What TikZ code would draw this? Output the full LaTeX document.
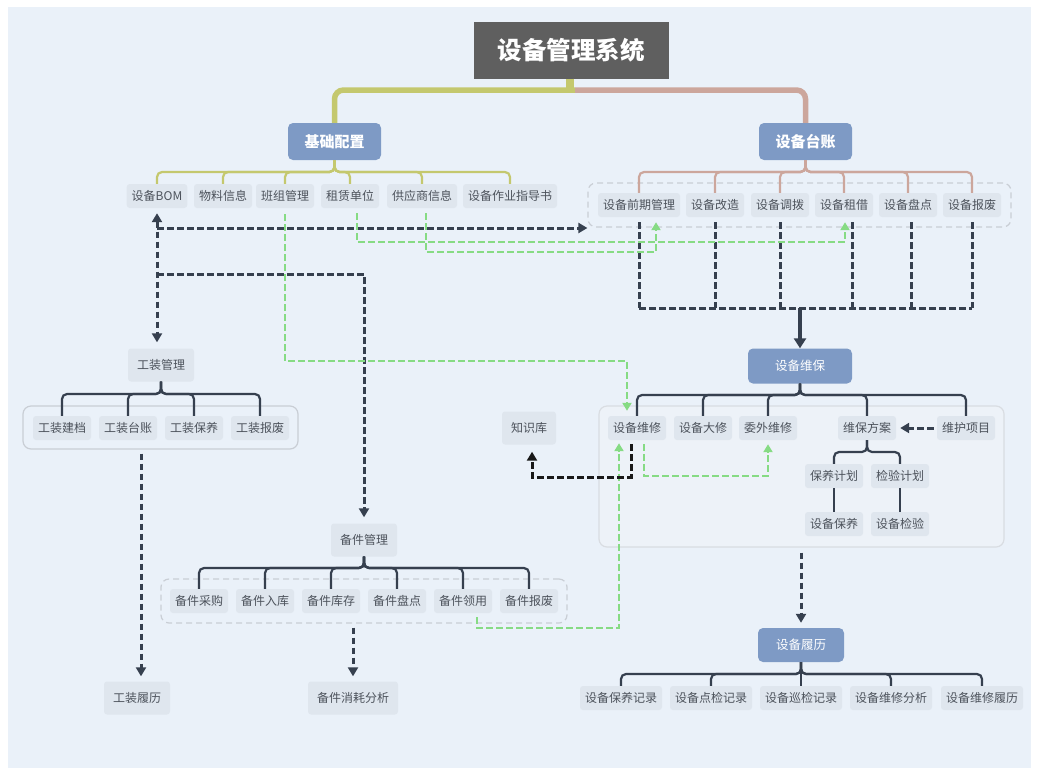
\documentclass[tikz,border=0pt]{standalone}
\usepackage{fontspec}
\newfontfamily\cjk{Noto Sans CJK SC}
\usetikzlibrary{arrows.meta}
\definecolor{bgc}{HTML}{EAF1F9}
\definecolor{leafc}{HTML}{DFE6EE}
\definecolor{txtc}{HTML}{4C525B}
\definecolor{bluec}{HTML}{7E9AC5}
\definecolor{titc}{HTML}{5F5F5F}
\definecolor{gyc}{HTML}{C4C86E}
\definecolor{brc}{HTML}{CCA69C}
\definecolor{dkc}{HTML}{36404F}
\definecolor{grc}{HTML}{86DB84}
\definecolor{grpc}{HTML}{C9CED5}
\definecolor{grpf}{HTML}{EDF2F8}
\tikzset{
  leaf/.style={fill=leafc, rounded corners=3pt, text=txtc, font=\cjk\fontsize{12}{14}\selectfont, inner xsep=5pt, inner ysep=0pt, minimum height=24pt},
  big/.style={leaf, minimum height=33pt, inner xsep=9pt},
  hdr/.style={fill=bluec, rounded corners=5pt, text=white, inner sep=0pt},
  gyline/.style={draw=gyc, line width=2.2pt, rounded corners=5pt},
  brline/.style={draw=brc, line width=2.2pt, rounded corners=5pt},
  dkline/.style={draw=dkc, line width=2.2pt, rounded corners=5pt},
  dk/.style={draw=dkc, line width=3pt, dash pattern=on 6.5pt off 3.5pt, arrows={-Triangle[length=9pt,width=10pt]}},
  dkthick/.style={draw=dkc, line width=4pt, arrows={-Triangle[length=10pt,width=12pt]}},
  gr/.style={draw=grc, line width=2.5pt, dash pattern=on 6.5pt off 3.5pt, arrows={-Triangle[length=8pt,width=9pt]}},
  blk/.style={draw=black!90, line width=3pt, dash pattern=on 6.5pt off 3.5pt, arrows={-Triangle[length=9pt,width=10pt]}},
  grpd/.style={draw=grpc, line width=1.2pt, dash pattern=on 6pt off 4pt, rounded corners=8pt, inner sep=0pt},
  grps/.style={draw=grpc, line width=1.2pt, rounded corners=8pt, inner sep=0pt},
}
\begin{document}
\begin{tikzpicture}[x=1pt,y=-1pt]
\useasboundingbox (0,0) rectangle (1040,774);
\fill[white] (0,0) rectangle (1040,774);
\fill[bgc] (8,7) rectangle (1031,768);

% group boxes
\node[grpd, minimum width=423pt, minimum height=44pt] (g1) at (799.5,205) {};
\node[grps, minimum width=275pt, minimum height=43pt] (ggz) at (160.5,427.5) {};
\node[grpd, minimum width=406pt, minimum height=44pt] (gbj) at (364,601) {};
\node[grps, fill=grpf, draw=grpc!70, minimum width=405pt, minimum height=141pt] (gwb) at (801.5,476.5) {};

% title and headers
\node[fill=titc, minimum width=195pt, minimum height=57pt, inner sep=0pt, text=white, font=\cjk\bfseries\fontsize{24.5}{28}\selectfont] (title) at (571,50) {设备管理系统};
\node[hdr, minimum width=93pt, minimum height=37pt, font=\cjk\bfseries\fontsize{15}{17}\selectfont] (jc) at (334.5,141.5) {基础配置};
\node[hdr, minimum width=93pt, minimum height=37pt, font=\cjk\bfseries\fontsize{15}{17}\selectfont] (sbtz) at (805.5,141.5) {设备台账};
\node[hdr, minimum width=104pt, minimum height=35pt, font=\cjk\fontsize{12.5}{14}\selectfont] (wb) at (800,366) {设备维保};
\node[hdr, minimum width=86pt, minimum height=34pt, font=\cjk\fontsize{12.5}{14}\selectfont] (sbll) at (801,645) {设备履历};

% leaves
\foreach \n/\x/\t in {bom/157/设备BOM, wl/223/物料信息, bz/285/班组管理, zl/350/租赁单位, gys/422/供应商信息, zy/510/设备作业指导书}
  \node[leaf] (\n) at (\x,196) {\t};
\foreach \n/\x/\t in {qq/639/设备前期管理, gz/715/设备改造, db/780/设备调拨, zj/844/设备租借, pd/908/设备盘点, bfz/972/设备报废}
  \node[leaf] (\n) at (\x,205) {\t};
\foreach \n/\x/\t in {wx/637/设备维修, dx/703/设备大修, ww/768/委外维修, wbfa/867/维保方案, whxm/966/维护项目}
  \node[leaf] (\n) at (\x,428) {\t};
\node[leaf] (byjh) at (834,476) {保养计划};
\node[leaf] (jyjh) at (900,476) {检验计划};
\node[leaf] (sbby) at (834,524) {设备保养};
\node[leaf] (sbjy) at (900,524) {设备检验};
\foreach \n/\x/\t in {gj/62/工装建档, gtz/128/工装台账, gby/194/工装保养, gbf/260/工装报废}
  \node[leaf] (\n) at (\x,428) {\t};
\foreach \n/\x/\t in {cg/199/备件采购, rk/265/备件入库, kc/331/备件库存, bpd/397/备件盘点, ly/463/备件领用, bbf/529/备件报废}
  \node[leaf] (\n) at (\x,601) {\t};
\foreach \n/\x/\t in {ra/621/设备保养记录, rb/711/设备点检记录, rc/801/设备巡检记录, rd/891/设备维修分析, re/982/设备维修履历}
  \node[leaf] (\n) at (\x,698) {\t};
\node[big] (gzgl) at (161,365) {工装管理};
\node[big] (bjgl) at (364,540) {备件管理};
\node[big] (zsk) at (529,428) {知识库};
\node[big] (gzll) at (137,698) {工装履历};
\node[big] (bjxh) at (353,698) {备件消耗分析};

% main branches
\coordinate (tj) at ([xshift=-1pt]title.south |- 0,90);
\draw[gyc, line width=5.5pt, rounded corners=9pt] ([xshift=5pt]tj) -| (jc.north);
\draw[brc, line width=5.5pt, rounded corners=9pt] ([xshift=5pt]tj) -| (sbtz.north);
\draw[gyc, line width=8pt] ([xshift=-1pt]title.south) -- ([yshift=-2.75pt]tj);

% tree branches
\foreach \c in {bom,wl,bz,zl,gys,zy}
  \draw[gyline] (jc.south) -- (jc.south |- 0,172) -| (\c.north);
\foreach \c in {qq,gz,db,zj,pd,bfz}
  \draw[brline] (sbtz.south) -- (sbtz.south |- 0,172) -| (\c.north);
\foreach \c in {wx,dx,ww,wbfa,whxm}
  \draw[dkline] (wb.south) -- (wb.south |- 0,395) -| (\c.north);
\foreach \c in {byjh,jyjh}
  \draw[dkline] (wbfa.south) -- (wbfa.south |- 0,452) -| (\c.north);
\draw[dkline] (byjh.south) -- (sbby.north);
\draw[dkline] (jyjh.south) -- (sbjy.north);
\foreach \c in {gj,gtz,gby,gbf}
  \draw[dkline] (gzgl.south) -- (gzgl.south |- 0,394) -| (\c.north);
\foreach \c in {cg,rk,kc,bpd,ly,bbf}
  \draw[dkline] (bjgl.south) -- (bjgl.south |- 0,568) -| (\c.north);
\foreach \c in {ra,rb,rc,rd,re}
  \draw[dkline] (sbll.south) -- (sbll.south |- 0,674) -| (\c.north);

% dark dashed from ledger children
\foreach \n/\s in {qq/0,gz/0,db/0,zj/8,pd/3,bfz/0}
  \draw[dk, arrows=-] ([xshift=\s pt, yshift=-5pt]\n.south) -- ([xshift=\s pt]\n.south |- 0,308);
\draw[dk, arrows=-] (qq.south |- 0,308) -- (bfz.south |- 0,308);
\draw[dkthick] (wb.north |- 0,308) -- (wb.north);

% BOM connectors
\draw[dk, arrows={Triangle[length=9pt,width=10pt]-Triangle[length=9pt,width=10pt]}, shorten <=5pt, shorten >=6pt] (bom.south) -- (bom.south |- gzgl.north);
\draw[dk] (bom.south |- 0,228) -- (g1.west |- 0,228);
\draw[dk, shorten >=6pt] (bom.south |- 0,274) -| (bjgl.north);

% green connectors
\draw[gr, shorten <=6pt, shorten >=5pt] (bz.south) -- (bz.south |- 0,361) -| ([xshift=-10pt]wx.north);
\draw[gr, shorten <=5pt, shorten >=5pt] ([xshift=7pt]zl.south) -- ([xshift=7pt]zl.south |- 0,242) -| ([xshift=1pt]zj.south);
\draw[gr, shorten <=5pt, shorten >=5pt] ([xshift=4pt]gys.south) -- ([xshift=4pt]gys.south |- 0,252) -| ([xshift=17pt]qq.south);
\draw[gr, shorten <=4pt, shorten >=3pt] ([xshift=14pt]ly.south) -- ([xshift=14pt]ly.south |- 0,628) -| ([xshift=-18pt]wx.south);
\draw[gr, shorten <=4pt, shorten >=4pt] ([xshift=7pt]wx.south) -- ([xshift=7pt]wx.south |- 0,476) -| (ww.south);
\draw[blk, shorten <=4pt, shorten >=7pt] ([xshift=-6pt]wx.south) -- ([xshift=-6pt]wx.south |- 0,477) -| ([xshift=3pt]zsk.south);
\draw[dk, shorten <=3pt, shorten >=4pt] (whxm.west) -- (wbfa.east);

% downward arrows to history nodes
\draw[dk, shorten <=4pt, shorten >=5pt] ([xshift=4pt]gzll.north |- ggz.south) -- ([xshift=4pt]gzll.north);
\draw[dk, shorten <=4pt, shorten >=5pt] (bjxh.north |- gbj.south) -- (bjxh.north);
\draw[dk, shorten <=5pt, shorten >=5pt] (sbll.north |- gwb.south) -- (sbll.north);
\end{tikzpicture}
\end{document}
